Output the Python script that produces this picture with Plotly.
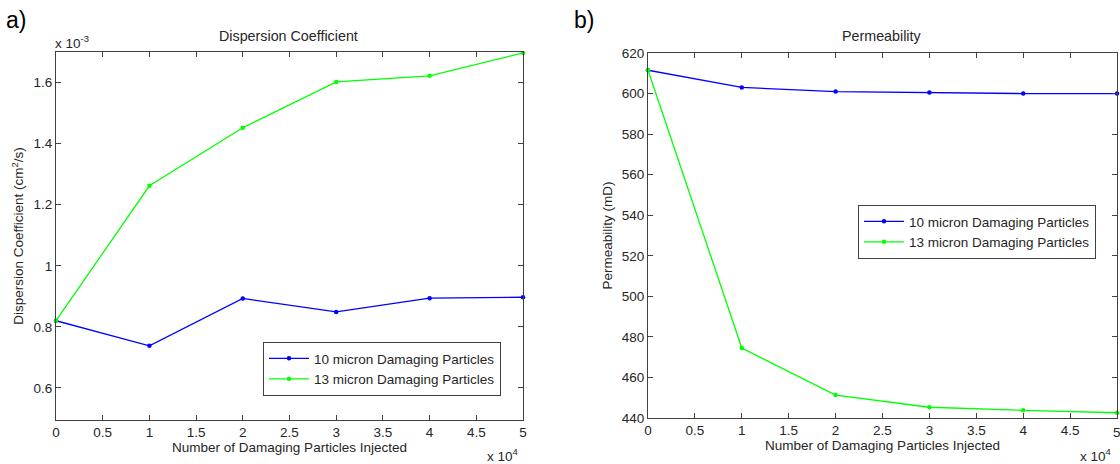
import plotly.graph_objects as go

# Data
particles = [0, 1, 2, 3, 4, 5]  # x 10^4
x_tick_vals = [0, 0.5, 1, 1.5, 2, 2.5, 3, 3.5, 4, 4.5, 5]
x_tick_text = ["0", "0.5", "1", "1.5", "2", "2.5", "3", "3.5", "4", "4.5", "5"]

disp_10 = [0.82, 0.738, 0.893, 0.849, 0.894, 0.897]   # x 10^-3
disp_13 = [0.82, 1.262, 1.452, 1.602, 1.622, 1.697]
disp_ticks = [0.6, 0.8, 1.0, 1.2, 1.4, 1.6]
disp_tick_text = ["0.6", "0.8", "1", "1.2", "1.4", "1.6"]

perm_10 = [611.5, 603.0, 601.0, 600.5, 600.0, 600.0]
perm_13 = [611.5, 474.5, 451.3, 445.3, 443.8, 442.6]
perm_ticks = [440, 460, 480, 500, 520, 540, 560, 580, 600, 620]

series_names = ["10 micron Damaging Particles", "13 micron Damaging Particles"]
colors = ["#0000ff", "#00ff00"]

FONT = "Liberation Sans, Arial, sans-serif"
TXT = "#262626"
FS = 13.5

fig = go.Figure()

def add(x, y, name, color, xa, ya, legend):
    fig.add_trace(go.Scatter(
        x=x, y=y, name=name, mode="lines+markers",
        line=dict(color=color, width=1.3),
        marker=dict(color=color, size=4.5, symbol="circle"),
        xaxis=xa, yaxis=ya, legend=legend, cliponaxis=False))

add(particles, disp_10, series_names[0], colors[0], "x", "y", "legend")
add(particles, disp_13, series_names[1], colors[1], "x", "y", "legend")
add(particles, perm_10, series_names[0], colors[0], "x2", "y2", "legend2")
add(particles, perm_13, series_names[1], colors[1], "x2", "y2", "legend2")

H = 464.0
W = 1120.0

axis_common = dict(
    showline=True, linecolor="#404040", linewidth=1, mirror="ticks",
    ticks="inside", ticklen=5, tickcolor="#404040",
    showgrid=False, zeroline=False, automargin=False,
    tickfont=dict(family=FONT, size=FS, color=TXT),
)

fig.update_layout(
    width=1120, height=464,
    margin=dict(l=0, r=0, t=0, b=0),
    paper_bgcolor="white", plot_bgcolor="white",
    font=dict(family=FONT, size=FS, color=TXT),
    xaxis=dict(domain=[56 / W, 523 / W], range=[0, 5],
               tickvals=x_tick_vals, ticktext=x_tick_text,
               title=dict(text="Number of Damaging Particles Injected",
                          font=dict(size=FS, color=TXT), standoff=2),
               anchor="y", **axis_common),
    yaxis=dict(domain=[1 - 420 / H, 1 - 52 / H], range=[0.495, 1.70],
               tickvals=disp_ticks, ticktext=disp_tick_text,
               title=dict(text="Dispersion Coefficient (cm<sup>2</sup>/s)",
                          font=dict(size=FS, color=TXT), standoff=6),
               anchor="x", **axis_common),
    xaxis2=dict(domain=[648 / W, 1117 / W], range=[0, 5],
                tickvals=x_tick_vals, ticktext=x_tick_text,
                title=dict(text="Number of Damaging Particles Injected",
                           font=dict(size=FS, color=TXT), standoff=2),
                anchor="y2", **axis_common),
    yaxis2=dict(domain=[1 - 418 / H, 1 - 53 / H], range=[440, 620],
                tickvals=perm_ticks,
                title=dict(text="Permeability (mD)",
                           font=dict(size=FS, color=TXT), standoff=6),
                anchor="x2", **axis_common),
    legend=dict(x=263 / W, y=1 - 342 / H, xanchor="left", yanchor="top",
                bgcolor="white", bordercolor="#404040", borderwidth=1,
                font=dict(family=FONT, size=13.5, color=TXT),
                tracegroupgap=0, itemwidth=40),
    legend2=dict(x=858 / W, y=1 - 205 / H, xanchor="left", yanchor="top",
                 bgcolor="white", bordercolor="#404040", borderwidth=1,
                 font=dict(family=FONT, size=13.5, color=TXT),
                 tracegroupgap=0, itemwidth=40),
    showlegend=True,
)

annotations = [
    dict(text="a)", x=4 / W, y=1 - 20 / H, font=dict(size=23, color="black")),
    dict(text="b)", x=572 / W, y=1 - 20 / H, font=dict(size=23, color="black")),
    dict(text="Dispersion Coefficient", x=288 / W, y=1 - 36 / H, font=dict(size=14.3, color=TXT), xanchor="center"),
    dict(text="Permeability", x=882 / W, y=1 - 36 / H, font=dict(size=14.3, color=TXT), xanchor="center"),
    dict(text="x 10<sup>-3</sup>", x=53 / W, y=1 - 42 / H, font=dict(size=FS, color=TXT)),
    dict(text="x 10<sup>4</sup>", x=485 / W, y=1 - 455 / H, font=dict(size=FS, color=TXT)),
    dict(text="x 10<sup>4</sup>", x=1078 / W, y=1 - 455 / H, font=dict(size=FS, color=TXT)),
]
for a in annotations:
    a.setdefault("xanchor", "left")
    fig.add_annotation(xref="paper", yref="paper", showarrow=False,
                       yanchor="middle", **a)

# last tick label of right x-axis (clipped at the page edge, as in the reference)
fig.add_annotation(xref="x2", yref="paper", x=x_tick_vals[-1], y=1 - 432 / H,
                   text=x_tick_text[-1], showarrow=False, xanchor="center",
                   yanchor="middle", font=dict(size=FS, color=TXT))

fig.write_html("out.html",
               config={"displayModeBar": False},
               post_script="document.body.style.margin='0';document.body.style.overflow='hidden';")
